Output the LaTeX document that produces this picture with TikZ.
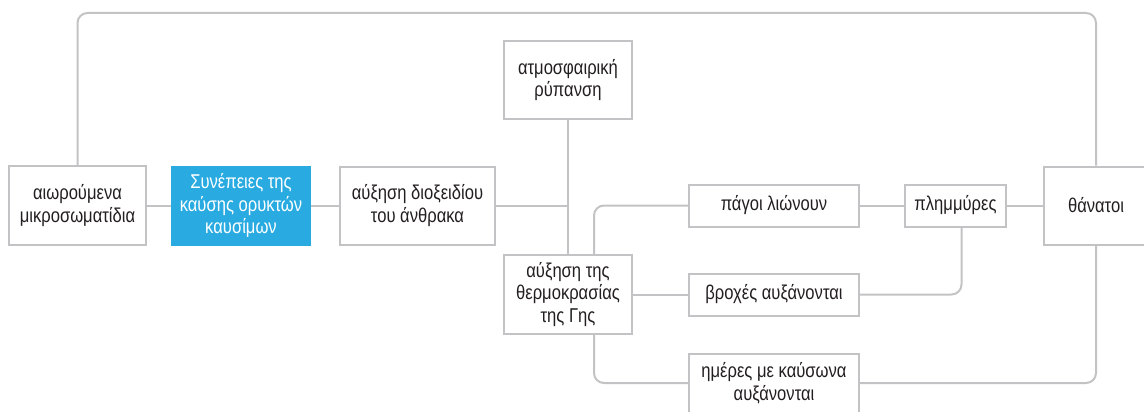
\documentclass[tikz,border=0pt]{standalone}
\usepackage{fontspec}
\setmainfont[FakeStretch=0.83]{Liberation Sans}
\usepackage{tikz}
\usetikzlibrary{positioning, calc}
\definecolor{linegray}{RGB}{195,195,197}
\definecolor{fuelblue}{RGB}{41,171,226}
\definecolor{txtgray}{RGB}{35,31,32}
\tikzstyle{box} = [rectangle, draw=linegray, line width=2pt, fill=white, text=txtgray, align=center, inner sep=2pt, font=\fontsize{20}{22.5}\selectfont]
\tikzstyle{hub} = [box, draw=fuelblue, fill=fuelblue, text=white]
\tikzstyle{link} = [draw=linegray, line width=2pt, rounded corners=10pt]

\begin{document}
\begin{tikzpicture}[x=1pt, y=-1pt]
    \useasboundingbox (0,0) rectangle (1144,412);
    \node[box, minimum width=137pt, minimum height=79pt] (aer) at (77.5,205.5) {αιωρούμενα\\μικροσωματίδια};
    \node[hub, minimum width=138pt, minimum height=78pt, right=24pt of aer] (fuel) {Συνέπειες της\\καύσης ορυκτών\\καυσίμων};
    \node[box, minimum width=155pt, minimum height=78pt, right=28pt of fuel] (co2) {αύξηση διοξειδίου\\του άνθρακα};
    \node[box, minimum width=128pt, minimum height=78pt] (pollution) at (568,80) {ατμοσφαιρική\\ρύπανση};
    \node[box, minimum width=128pt, minimum height=79pt, below=134pt of pollution] (heat) {αύξηση της\\θερμοκρασίας\\της Γης};
    \node[box, minimum width=170pt, minimum height=42pt, right=55pt of heat] (rain) {βροχές αυξάνονται};
    \node[box, minimum width=170pt, minimum height=42pt, above=45pt of rain] (ice) {πάγοι λιώνουν};
    \node[box, minimum width=170pt, minimum height=59pt, below=36pt of rain] (heatwave) {ημέρες με καύσωνα\\αυξάνονται};
    \node[box, minimum width=101pt, minimum height=42pt, right=44pt of ice] (flood) {πλημμύρες};
    \node[box, minimum width=104pt, minimum height=78pt, right=36pt of flood] (deaths) {θάνατοι};
    \coordinate (top) at (0,13);

    \draw[link] (aer.north) -- (aer.north |- top) -| (deaths.north);
    \draw[link] (aer) -- (fuel);
    \draw[link] (fuel) -- (co2);
    \draw[link] (co2.east) -- (co2.east -| pollution.south);
    \draw[link] (pollution) -- (heat);
    \draw[link] ([xshift=26pt]heat.north) |- (ice.west);
    \draw[link] (ice) -- (flood);
    \draw[link] (flood) -- (deaths);
    \draw[link] (heat.east |- rain.west) -- (rain.west);
    \draw[link] (rain.east) -| ([xshift=6pt]flood.south);
    \draw[link] ([xshift=26pt]heat.south) |- (heatwave.west);
    \draw[link] (heatwave.east) -| (deaths.south);
\end{tikzpicture}
\end{document}
